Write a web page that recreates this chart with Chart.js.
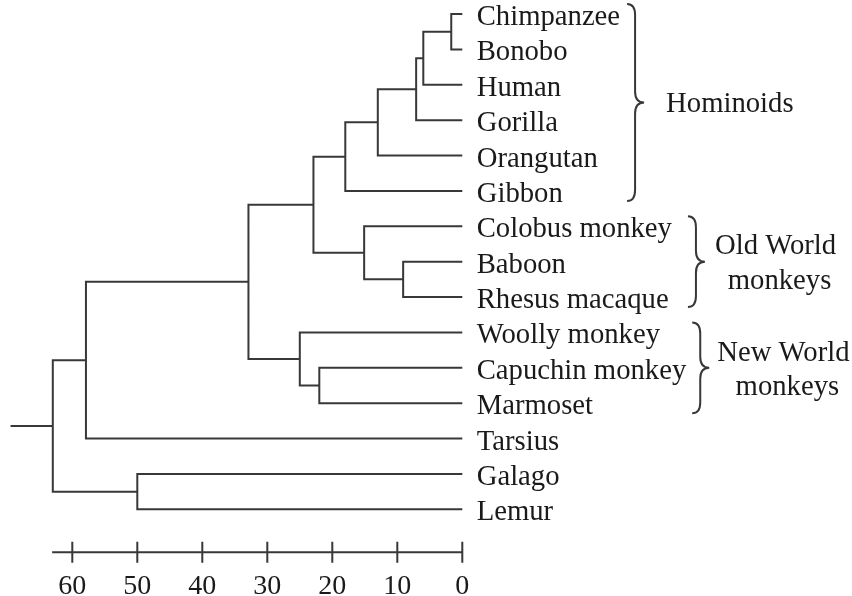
<!DOCTYPE html>
<html lang="en">
<head>
<meta charset="UTF-8">
<title>Primate phylogeny</title>
<script src="https://cdn.jsdelivr.net/npm/chart.js@4.4.7/dist/chart.umd.min.js"></script>
<style>
  * { margin: 0; padding: 0; box-sizing: border-box; }
  html, body { width: 852px; height: 596px; background: #fff; overflow: hidden; }
  .chart-container { position: relative; width: 852px; height: 596px; }
</style>
</head>
<body>
<div class="chart-container"><canvas id="tree"></canvas></div>
<script>
// leaves, top to bottom
const leaves = ['Chimpanzee', 'Bonobo', 'Human', 'Gorilla', 'Orangutan', 'Gibbon',
  'Colobus monkey', 'Baboon', 'Rhesus macaque', 'Woolly monkey', 'Capuchin monkey',
  'Marmoset', 'Tarsius', 'Galago', 'Lemur'];

// joins: node ids 0-14 are leaves, 15+ are the joins below in order
const joinLeft  = [0, 15, 16, 17, 18, 7, 6, 19, 10, 9, 22, 25, 13, 26];
const joinRight = [1, 2, 3, 4, 5, 8, 20, 21, 11, 23, 24, 12, 14, 27];
const joinAge   = [1.7, 6.0, 7.1, 13.0, 18.0, 9.1, 15.1, 22.9, 22.0, 25.0, 32.9, 57.9, 50.0, 63.0];
const rootStem = 69.5;

// bracketed groups (first and last leaf index)
const groupNames = [['Hominoids'], ['Old World', 'monkeys'], ['New World', 'monkeys']];
const groupFirst = [0, 6, 9];
const groupLast  = [5, 8, 11];

// time axis (million years ago)
const xTicks = [60, 50, 40, 30, 20, 10, 0];
const axisFrom = 63.1;

const nodeX = leaves.map(() => 0);
const nodeY = leaves.map((_, i) => i);
const treePoints = [];
joinAge.forEach((age, k) => {
  const a = joinLeft[k], b = joinRight[k];
  treePoints.push(
    { x: nodeX[a], y: nodeY[a] }, { x: age, y: nodeY[a] },
    { x: age, y: nodeY[b] }, { x: nodeX[b], y: nodeY[b] },
    { x: age, y: null }
  );
  nodeX.push(age);
  nodeY.push((nodeY[a] + nodeY[b]) / 2);
});
const root = nodeX.length - 1;
treePoints.push({ x: nodeX[root], y: nodeY[root] }, { x: rootStem, y: nodeY[root] });

const ink = '#383838';
const textInk = '#1a1a1a';
const serif = '"Liberation Serif", "Times New Roman", serif';
const braceGap = [7, 16, 6];
const groupTextGap = [22, 10, 8];

const annotate = {
  id: 'annotate',
  afterDatasetsDraw(chart) {
    const { ctx, scales: { x, y } } = chart;
    const axisY = chart.chartArea.bottom + 0.3;
    ctx.save();
    ctx.strokeStyle = ink;
    ctx.lineWidth = 2;

    // time axis with crossing ticks
    ctx.beginPath();
    ctx.moveTo(x.getPixelForValue(axisFrom), axisY);
    ctx.lineTo(x.getPixelForValue(0), axisY);
    xTicks.forEach(t => {
      const px = x.getPixelForValue(t);
      ctx.moveTo(px, axisY - 10.5);
      ctx.lineTo(px, axisY + 10.5);
    });
    ctx.stroke();

    ctx.fillStyle = textInk;
    ctx.font = '28px ' + serif;
    ctx.textAlign = 'center';
    ctx.textBaseline = 'alphabetic';
    xTicks.forEach(t => ctx.fillText(String(t), x.getPixelForValue(t), axisY + 42));

    // leaf names
    const labelX = x.getPixelForValue(0) + 14.4;
    ctx.font = '28.7px ' + serif;
    ctx.textAlign = 'left';
    leaves.forEach((name, i) => ctx.fillText(name, labelX, y.getPixelForValue(i) + 11));

    // braces and group names
    groupNames.forEach((lines, g) => {
      let w = 0;
      for (let i = groupFirst[g]; i <= groupLast[g]; i++) w = Math.max(w, ctx.measureText(leaves[i]).width);
      const x0 = labelX + w + braceGap[g];
      const xv = x0 + 8, xt = x0 + 17;
      const top = y.getPixelForValue(groupFirst[g]) - 10;
      const bottom = y.getPixelForValue(groupLast[g]) + 10;
      const mid = (top + bottom) / 2;
      const r = 11;
      ctx.beginPath();
      ctx.moveTo(x0, top);
      ctx.quadraticCurveTo(xv, top, xv, top + r);
      ctx.lineTo(xv, mid - r);
      ctx.quadraticCurveTo(xv, mid, xt, mid);
      ctx.quadraticCurveTo(xv, mid, xv, mid + r);
      ctx.lineTo(xv, bottom - r);
      ctx.quadraticCurveTo(xv, bottom, x0, bottom);
      ctx.stroke();

      const widths = lines.map(l => ctx.measureText(l).width);
      const cx = xt + groupTextGap[g] + Math.max(...widths) / 2;
      ctx.textAlign = 'center';
      lines.forEach((l, i) => {
        const by = mid + 10 + (i - (lines.length - 1) / 2) * 34.5;
        ctx.fillText(l, cx + (i > 0 ? 4 : 0), by);
      });
      ctx.textAlign = 'left';
    });
    ctx.restore();
  }
};

new Chart(document.getElementById('tree'), {
  type: 'line',
  data: {
    datasets: [{
      data: treePoints,
      borderColor: ink,
      borderWidth: 2,
      borderJoinStyle: 'miter',
      borderCapStyle: 'butt',
      pointRadius: 0,
      fill: false,
      tension: 0,
      spanGaps: false,
      clip: false
    }]
  },
  options: {
    responsive: true,
    maintainAspectRatio: false,
    animation: false,
    layout: { padding: { left: 7.3, right: 389.7, top: 0, bottom: 44 } },
    plugins: { legend: { display: false }, tooltip: { enabled: false } },
    scales: {
      x: { type: 'linear', reverse: true, min: 0, max: 70, display: false },
      y: { type: 'linear', reverse: true, min: -0.396, max: 15.206, display: false }
    }
  },
  plugins: [annotate]
});
</script>
</body>
</html>
